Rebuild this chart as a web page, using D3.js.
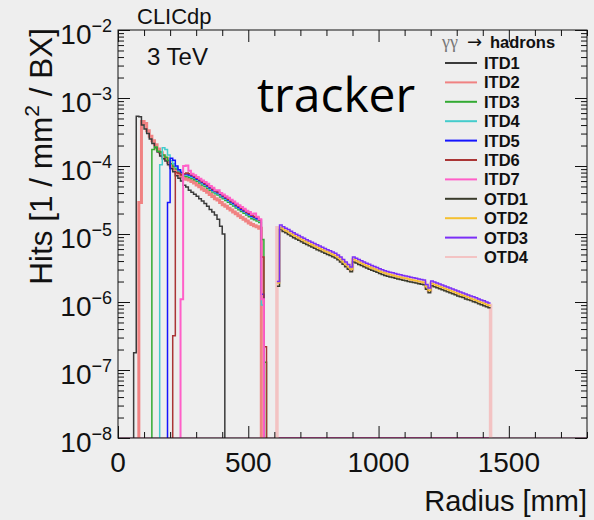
<!DOCTYPE html>
<html>
<head>
<meta charset="utf-8">
<script src="https://cdn.jsdelivr.net/npm/d3@7"></script>
<style>
  html, body { margin: 0; padding: 0; background: #eeeeee; }
  svg { display: block; }
  text { font-family: "Liberation Sans", Arial, Helvetica, sans-serif; fill: #111; }
</style>
</head>
<body>
<svg id="chart" width="594" height="520"></svg>
<script>
// Hit density per bunch crossing in the tracker disks, gamma gamma -> hadrons, 3 TeV.
// Histogram bins are 10 mm wide in radius; values are in units of 1e-6 hits / mm^2 / BX.
const binWidth = 10;
const valueUnit = 1e-6;

const seriesNames = ["ITD1", "ITD2", "ITD3", "ITD4", "ITD5", "ITD6", "ITD7", "OTD1", "OTD2", "OTD3", "OTD4"];
// lower edge of the first filled bin, mm
const seriesStart = [60, 80, 130, 160, 190, 210, 240, 610, 610, 610, 610];

const itd1 = [0.18, 540, 530, 400, 350, 300, 250, 215, 185, 160, 140, 128, 118, 104, 92, 82, 72, 66, 60, 52,
  49, 44, 41, 38.5, 36, 33, 30.5, 28, 25.5, 23, 21, 19, 16.5, 13, 10];
const itd2 = [29, 450, 420, 330, 275, 235, 205, 178, 156, 140, 128, 114, 101, 91, 82, 75, 70, 66, 64, 62,
  59, 56, 52.5, 49.5, 46, 43.5, 41, 38, 35.5, 33, 31.5, 29, 27, 25.5, 24, 22.5, 21, 19.8, 18.5, 17.5,
  16.5, 15.5, 14.5, 13.8, 13.2, 12.8, 12.2];
const itd3 = [175, 190, 165, 160, 145, 135, 120, 108, 98, 90, 82, 76, 71, 70, 68, 65.5, 63, 59.5, 56, 52.5,
  50, 47, 44, 41.5, 39, 37.5, 35, 33, 31, 29.2, 27.5, 25.8, 24.2, 22.8, 21.5, 20.2, 19, 18, 16.8, 16.2,
  15.5, 14.8, 8.3, 0.13];
const itd4 = [104, 185, 175, 145, 120, 108, 95, 85, 78, 74, 73, 71, 68.5, 66, 62, 58.5, 55, 52, 49.5, 46,
  43, 40.5, 39, 36.5, 34.5, 32.5, 30.5, 28.8, 27, 25.2, 23.8, 22.5, 21.2, 19.8, 18.8, 17.6, 17, 16.3, 15.5, 0.9];
const itd5 = [29, 130, 122, 100, 88, 80, 76, 76, 74, 71, 68, 64, 60.5, 57, 54, 51, 47.5, 44.5, 42, 40.5,
  38, 35.5, 33.5, 31.5, 29.5, 28, 26, 24.5, 23, 21.8, 20.5, 19.3, 18.2, 17.5, 16.8, 16, 1.3];
const itd6 = [0.32, 80, 78, 74, 77, 79, 77, 74, 70, 66, 62.5, 58.5, 55.5, 52.5, 49, 46, 43, 41.5, 39, 36.5,
  34.5, 32.5, 30.5, 29, 27, 25.5, 24, 22.5, 21, 20, 18.8, 18, 17.5, 16, 4.6, 0.22];
const itd7 = [1.1, 100, 102, 85, 77, 73, 69, 65, 61, 58, 55, 51, 48, 44, 44, 40, 38, 36, 34, 32,
  30, 28, 26.5, 25, 23.5, 22, 21, 19.5, 20, 18, 16.5, 1.1];
const otd1 = [1.7, 11.6, 10.9, 10.4, 9.86, 9.35, 8.84, 8.46, 8.08, 7.69, 7.34, 7.02, 6.72, 6.43, 6.15, 5.89,
  5.65, 5.43, 5.21, 5.01, 4.81, 4.62, 4.43, 4.17, 3.89, 3.58, 3.29, 3.03, 2.78, 3.89, 3.73, 3.57, 3.43, 3.29,
  3.16, 3.04, 2.93, 2.83, 2.73, 2.62, 2.53, 2.46, 2.39, 2.34, 2.29, 2.23, 2.18, 2.14, 2.09, 2.06, 2.01, 1.97,
  1.93, 1.90, 1.85, 1.82, 1.79, 1.54, 1.37, 1.73, 1.67, 1.62, 1.56, 1.51, 1.46, 1.41, 1.37, 1.32, 1.28, 1.23,
  1.19, 1.16, 1.11, 1.08, 1.05, 1.01, 0.98, 0.94, 0.91, 0.88, 0.85, 0.82];
const otd2 = [1.9, 12.5, 11.8, 11.2, 10.7, 10.1, 9.57, 9.15, 8.74, 8.33, 7.94, 7.6, 7.27, 6.96, 6.66, 6.38,
  6.12, 5.88, 5.64, 5.42, 5.21, 5.0, 4.79, 4.51, 4.21, 3.87, 3.56, 3.28, 3.01, 4.21, 4.04, 3.86, 3.71, 3.56,
  3.42, 3.29, 3.17, 3.06, 2.95, 2.83, 2.74, 2.66, 2.59, 2.53, 2.47, 2.41, 2.36, 2.32, 2.26, 2.23, 2.18, 2.13,
  2.09, 2.05, 2.01, 1.97, 1.93, 1.67, 1.48, 1.87, 1.81, 1.75, 1.69, 1.64, 1.58, 1.53, 1.48, 1.43, 1.38, 1.33,
  1.29, 1.25, 1.21, 1.17, 1.13, 1.09, 1.06, 1.02, 0.98, 0.96, 0.92, 0.89];
const otd3 = [2.0, 13.6, 12.8, 12.2, 11.6, 11.0, 10.4, 9.95, 9.5, 9.05, 8.63, 8.26, 7.9, 7.57, 7.24, 6.93,
  6.65, 6.39, 6.13, 5.89, 5.66, 5.43, 5.21, 4.90, 4.58, 4.21, 3.87, 3.56, 3.27, 4.58, 4.39, 4.20, 4.03, 3.87,
  3.72, 3.58, 3.45, 3.33, 3.21, 3.08, 2.98, 2.89, 2.81, 2.75, 2.69, 2.62, 2.57, 2.52, 2.46, 2.42, 2.37, 2.32,
  2.27, 2.23, 2.18, 2.14, 2.10, 1.81, 1.61, 2.03, 1.97, 1.90, 1.84, 1.78, 1.72, 1.66, 1.61, 1.55, 1.50, 1.45,
  1.40, 1.36, 1.31, 1.27, 1.23, 1.19, 1.15, 1.11, 1.07, 1.04, 1.00, 0.97];
const otd4 = [12.4, 12.4, 11.7, 11.2, 10.6, 10.1, 9.6, 9.1, 8.7, 8.3, 7.9, 7.6, 7.25, 6.95, 6.65, 6.35,
  6.1, 5.85, 5.65, 5.4, 5.2, 5.0, 4.8, 4.5, 4.2, 3.85, 3.55, 3.25, 3.0, 4.2, 4.05, 3.85, 3.7, 3.55,
  3.4, 3.3, 3.15, 3.05, 2.95, 2.85, 2.75, 2.65, 2.6, 2.5, 2.45, 2.4, 2.35, 2.3, 2.25, 2.2, 2.2, 2.15,
  2.1, 2.05, 2.0, 1.97, 1.93, 1.66, 1.48, 1.87, 1.81, 1.75, 1.69, 1.64, 1.58, 1.53, 1.48, 1.43, 1.38, 1.33,
  1.29, 1.25, 1.21, 1.17, 1.13, 1.09, 1.06, 1.02, 0.98, 0.96, 0.92, 0.89];

const seriesValues = [itd1, itd2, itd3, itd4, itd5, itd6, itd7, otd1, otd2, otd3, otd4];

const xTickMajor = [0, 500, 1000, 1500];
const yDecades = [-8, -7, -6, -5, -4, -3, -2];

// drawing styles
const seriesColors = ["#3a3a3a", "#f08282", "#33aa33", "#44cccc", "#1414ff", "#aa3535", "#ff5fc8",
  "#3a3c2c", "#f4c030", "#7b2ff7", "#f3c3c3"];
const seriesWidths = [1.5, 3, 1.5, 1.5, 1.5, 1.5, 2, 1.5, 1.5, 1.5, 3.5];
// outer edges of the outer-disk histograms are left to the wide OTD4 line
const seriesOuterEdges = [true, true, true, true, true, true, true, false, false, false, true];
const curveOrder = [10, 1, 0, 2, 3, 4, 5, 6, 7, 8, 9];

const svg = d3.select("#chart");
const frame = { left: 118, top: 30, right: 587, bottom: 438 };

const x = d3.scaleLinear().domain([0, 1800]).range([frame.left, frame.right]);
const y = d3.scaleLog().domain([1e-8, 1e-2]).range([frame.bottom, frame.top]);
const floorValue = 1e-8;

svg.append("defs").append("clipPath").attr("id", "plotClip")
  .append("rect").attr("x", frame.left).attr("y", frame.top - 2)
  .attr("width", frame.right - frame.left).attr("height", frame.bottom - frame.top + 2);

const plot = svg.append("g").attr("clip-path", "url(#plotClip)");

const stepLine = d3.line()
  .x(d => x(d.r))
  .y(d => y(Math.max(d.v, floorValue)))
  .curve(d3.curveStepAfter);

const series = seriesNames.map((name, i) => {
  const vals = seriesValues[i];
  const start = seriesStart[i];
  const end = start + vals.length * binWidth;
  const edges = seriesOuterEdges[i];
  const pts = [];
  if (edges) pts.push({ r: start, v: floorValue });
  vals.forEach((v, k) => pts.push({ r: start + k * binWidth, v: v * valueUnit }));
  pts.push({ r: end, v: edges ? floorValue : vals[vals.length - 1] * valueUnit });
  return { name, start, end, pts, color: seriesColors[i], width: seriesWidths[i] };
});

// empty bins sit on the lower frame edge
const floorLayer = plot.append("g");
series.forEach(s => {
  [[0, s.start], [s.end, 1800]].forEach(([a, b]) => {
    floorLayer.append("path")
      .attr("d", stepLine([{ r: a, v: floorValue }, { r: b, v: floorValue }]))
      .attr("fill", "none").attr("stroke", s.color).attr("stroke-width", 1.5);
  });
});

const curveLayer = plot.append("g");
curveOrder.forEach(i => {
  const s = series[i];
  curveLayer.append("path")
    .attr("d", stepLine(s.pts))
    .attr("fill", "none")
    .attr("stroke", s.color)
    .attr("stroke-width", s.width)
    .attr("stroke-linejoin", "miter");
});

// frame
svg.append("rect")
  .attr("x", frame.left).attr("y", frame.top)
  .attr("width", frame.right - frame.left).attr("height", frame.bottom - frame.top)
  .attr("fill", "none").attr("stroke", "#111").attr("stroke-width", 1);

// ticks on all four sides, pointing inwards
const xMinor = d3.range(0, 1801, 100).filter(v => !xTickMajor.includes(v));
const yMajor = yDecades.map(k => Math.pow(10, k));
const yMinor = [];
yDecades.slice(0, -1).forEach(k => { for (let m = 2; m <= 9; m++) yMinor.push(m * Math.pow(10, k)); });

function styleAxis(g) {
  g.select(".domain").remove();
  g.selectAll(".tick line").attr("stroke", "#111").attr("stroke-width", 1);
  g.selectAll(".tick text").remove();
}
const axes = svg.append("g");
axes.append("g").attr("transform", `translate(0,${frame.bottom})`)
  .call(d3.axisBottom(x).tickValues(xTickMajor).tickSize(-12).tickFormat("")).call(styleAxis);
axes.append("g").attr("transform", `translate(0,${frame.bottom})`)
  .call(d3.axisBottom(x).tickValues(xMinor).tickSize(-6).tickFormat("")).call(styleAxis);
axes.append("g").attr("transform", `translate(0,${frame.top})`)
  .call(d3.axisTop(x).tickValues(xTickMajor).tickSize(-12).tickFormat("")).call(styleAxis);
axes.append("g").attr("transform", `translate(0,${frame.top})`)
  .call(d3.axisTop(x).tickValues(xMinor).tickSize(-6).tickFormat("")).call(styleAxis);
axes.append("g").attr("transform", `translate(${frame.left},0)`)
  .call(d3.axisLeft(y).tickValues(yMajor).tickSize(-12).tickFormat("")).call(styleAxis);
axes.append("g").attr("transform", `translate(${frame.left},0)`)
  .call(d3.axisLeft(y).tickValues(yMinor).tickSize(-6).tickFormat("")).call(styleAxis);
axes.append("g").attr("transform", `translate(${frame.right},0)`)
  .call(d3.axisRight(y).tickValues(yMajor).tickSize(-12).tickFormat("")).call(styleAxis);
axes.append("g").attr("transform", `translate(${frame.right},0)`)
  .call(d3.axisRight(y).tickValues(yMinor).tickSize(-6).tickFormat("")).call(styleAxis);

// tick labels
xTickMajor.forEach(v => {
  svg.append("text").attr("x", x(v)).attr("y", 472)
    .attr("text-anchor", "middle").attr("font-size", 28).text(v);
});
yDecades.forEach(k => {
  const t = svg.append("text").attr("x", 112).attr("y", y(Math.pow(10, k)) + 14)
    .attr("text-anchor", "end").attr("font-size", 28);
  t.append("tspan").text("10");
  t.append("tspan").attr("font-size", 18).attr("dy", -12).text("\u2212" + Math.abs(k));
});

// axis titles
svg.append("text").attr("x", 587).attr("y", 511).attr("text-anchor", "end")
  .attr("font-size", 29).text("Radius [mm]");
const yt = svg.append("text").attr("transform", "translate(52,28) rotate(-90)")
  .attr("text-anchor", "end").attr("font-size", 31.5);
yt.append("tspan").text("Hits [1 / mm");
yt.append("tspan").attr("font-size", 21).attr("dy", -13).text("2");
yt.append("tspan").attr("dy", 13).text(" / BX]");

// labels
svg.append("text").attr("x", 137).attr("y", 24).attr("font-size", 22).text("CLICdp");
svg.append("text").attr("x", 147).attr("y", 65).attr("font-size", 24).text("3 TeV");
svg.append("text").attr("x", 257).attr("y", 112).attr("font-size", 48)
  .style("font-family", "'Open Sans', 'Noto Sans', sans-serif").style("fill", "#000").text("tracker");

// legend
const legend = svg.append("g");
legend.append("text").attr("x", 442).attr("y", 48).attr("font-size", 18)
  .style("font-family", "'Liberation Serif', serif").style("fill", "#777").text("\u03b3\u03b3");
legend.append("text").attr("x", 467).attr("y", 48).attr("font-size", 18)
  .style("font-family", "'DejaVu Sans', sans-serif").text("\u2192");
legend.append("text").attr("x", 490).attr("y", 48).attr("font-size", 16.5)
  .attr("font-weight", "bold").text("hadrons");
series.forEach((s, i) => {
  const cy = 63 + i * 19.4;
  legend.append("line").attr("x1", 445).attr("x2", 477).attr("y1", cy).attr("y2", cy)
    .attr("stroke", s.color).attr("stroke-width", 2);
  legend.append("text").attr("x", 484).attr("y", cy + 6).attr("font-size", 16.5)
    .attr("font-weight", "bold").text(s.name);
});
</script>
</body>
</html>
